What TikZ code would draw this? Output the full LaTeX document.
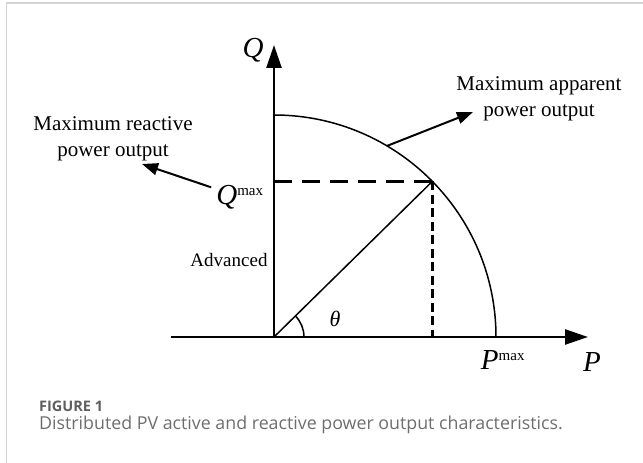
\documentclass[tikz,border=0pt]{standalone}
\usepackage{fontspec}
\setmainfont{Liberation Serif}
\newfontfamily\capfont{Open Sans}
\usetikzlibrary{arrows.meta,calc}
\definecolor{framegray}{HTML}{D4D4D4}
\definecolor{capgray}{HTML}{6E6E6E}

\begin{document}
\begin{tikzpicture}[
  x=1pt, y=1pt,
  axis/.style={line width=2.5pt, -{Triangle[length=23pt,width=15pt]}},
  guideh/.style={line width=3pt, dash pattern=on 18pt off 10pt},
  guidev/.style={line width=2.6pt, dash pattern=on 9pt off 4.5pt},
  curve/.style={line width=1.5pt},
  arr/.style={line width=2pt, -{Triangle[length=16pt,width=12pt]}},
  lbl/.style={inner sep=0pt, align=center, font=\fontsize{21}{26}\selectfont},
  sym/.style={inner sep=0pt, font=\fontsize{29}{29}\selectfont\itshape},
]
\useasboundingbox (0,0) rectangle (643,463);
\draw[framegray, line width=1.5pt] (6.5,0) -- (6.5,460) -- (643,460);

% axes
\coordinate (O) at (274,126);
\coordinate (pl) at (171,126);
\coordinate (pr) at (588,126);
\coordinate (qt) at (274,418);
\draw[axis] (pl) -- (pr);
\draw[axis] (O) -- (qt);

% capability circle and operating point
\draw[curve] ($(O)+(222,0)$) arc[start angle=0, end angle=90, radius=222];
\coordinate (S) at ($(O)+(44.5:222)$);
\coordinate (qm) at (O |- S);
\coordinate (pm) at (S |- O);
\draw[curve] (O) -- (S);
\draw[guideh] (qm) -- (S);
\draw[guidev] (S) -- (pm);
\draw[curve] ($(O)+(30,0)$) arc[start angle=0, end angle=44.5, radius=30];

% labels
\node[sym] (q) at (253,413) {Q};
\node[sym] (p) at (592,101) {P};
\node[sym] (pmax) at (503,103) {P\textsuperscript{\upshape\fontsize{15}{15}\selectfont max}};
\node[sym, inner sep=5pt] (qmax) at (240,266) {Q\textsuperscript{\upshape\fontsize{15}{15}\selectfont max}};
\node[inner sep=0pt, font=\fontsize{19}{19}\selectfont] (adv) at (229,203) {Advanced};
\node[inner sep=0pt, font=\fontsize{22}{22}\selectfont\itshape] (th) at (335,144) {θ};
\node[lbl] (react) at (113,324) {Maximum reactive\\power output};
\node[lbl] (appar) at (539,364) {Maximum apparent\\power output};

% pointers
\coordinate (rtip) at (142,299);
\coordinate (s2) at ($(O)+(59.4:222)$);
\coordinate (atip) at (473,351);
\draw[arr] (qmax) -- (rtip);
\draw[arr] (s2) -- (atip);

% caption
\node[anchor=west, inner sep=0pt, text=capgray!85!black, font=\capfont\fontsize{14.5}{14.5}\selectfont\bfseries] (fig) at (39,57) {FIGURE 1};
\node[anchor=west, inner sep=0pt, text=capgray, font=\capfont\fontsize{17.8}{17.8}\selectfont] (cap) at (39,38) {Distributed PV active and reactive power output characteristics.};
\end{tikzpicture}
\end{document}
